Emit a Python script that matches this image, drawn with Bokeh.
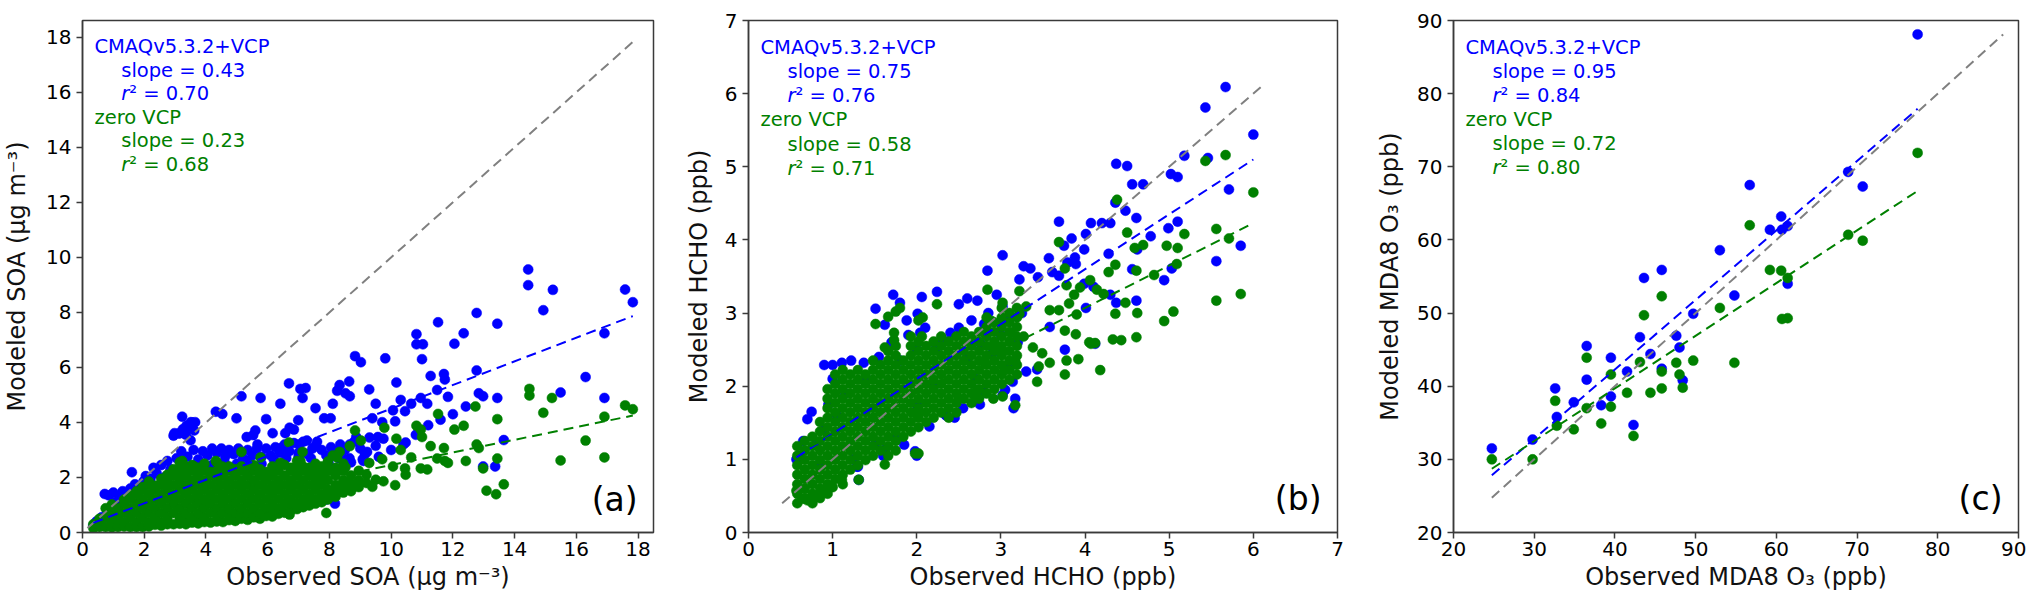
from bokeh.plotting import figure
from bokeh.models import Range1d, FixedTicker, Label
from bokeh.layouts import row
from bokeh.embed import file_html
from bokeh.resources import INLINE

BLUE = "#0000ff"
GREEN = "#008000"
GRAY = "#808080"
FRAME = "#3a3a3a"
FONT = "DejaVu Sans"

series_labels = ["CMAQv5.3.2+VCP", "zero VCP"]

# ---------------- panel (a): SOA ----------------
soa_obs_vcp = [
    14.44, 14.44, 15.24, 14.93, 17.58, 17.83, 16.91, 12.77, 13.44, 11.52,
    10.82, 10.82, 11.03, 11.00, 12.05, 12.35, 8.83, 9.02, 9.81, 12.77,
    11.28, 11.71, 11.74, 11.49, 11.84, 12.84, 12.98, 13.44, 12.42, 15.49,
    16.30, 16.91, 13.65, 10.17, 10.65, 10.45, 10.06, 10.31, 10.96, 11.17,
    9.71, 9.39, 9.50, 10.13, 9.57, 9.75, 10.47, 12.98, 13.37, 8.25,
    8.33, 8.52, 8.66, 9.29, 8.64, 8.11, 8.04, 7.83, 7.55, 7.13,
    7.06, 7.23, 6.69, 6.41, 5.77, 5.15, 4.99, 5.95, 4.32, 4.53,
    3.23, 3.51, 3.62, 3.65, 2.98, 3.16, 3.37, 5.60, 5.53, 5.32,
    6.57, 6.71, 6.99, 6.85, 6.16, 5.67, 6.43, 7.02, 7.27, 7.55,
    7.97, 8.18, 8.38, 8.66, 9.08, 8.87, 9.22,
    0.35, 0.45, 0.55, 0.62, 0.72, 0.85, 1.00, 0.80, 1.05, 1.20,
    1.30, 1.45, 1.55, 1.60, 1.70, 1.85, 1.98, 2.05, 2.20, 2.30,
    2.40, 2.55, 2.65, 2.75, 2.85, 2.95, 3.05, 3.12, 3.25, 3.35, 3.45, 3.55, 3.50,
    3.20, 3.40, 3.60, 3.75, 3.90, 4.05, 4.20, 4.35, 4.50, 4.62, 4.75, 4.90, 5.05, 5.20,
    5.35, 5.50, 5.65, 5.80, 5.95, 6.10, 6.25, 6.40, 6.55, 6.70, 6.85, 7.00, 7.15, 7.30,
    7.45, 7.60, 7.75, 7.90, 8.05, 8.20, 8.35, 8.50, 8.65, 8.80, 9.00, 9.15, 9.30, 9.50,
    4.20, 4.60, 5.00, 5.40, 5.80, 6.20, 6.60, 7.00, 7.40, 7.90, 8.00, 8.30, 8.70, 9.10,
    9.60, 10.00, 10.40, 10.80, 11.20, 11.60, 12.00,
]
soa_mod_vcp = [
    9.56, 8.99, 8.82, 8.08, 8.83, 8.37, 7.24, 7.98, 7.59, 7.64,
    7.21, 6.84, 6.84, 6.30, 6.86, 7.24, 6.41, 6.19, 6.33, 5.89,
    5.69, 5.76, 5.56, 5.18, 4.93, 5.06, 4.95, 4.89, 4.58, 5.09,
    5.65, 4.89, 3.36, 5.45, 4.68, 4.41, 4.44, 4.82, 4.89, 4.68,
    4.01, 4.15, 4.68, 4.04, 3.47, 3.41, 3.27, 2.40, 2.40, 5.15,
    5.36, 5.06, 4.95, 5.20, 5.49, 4.68, 4.15, 4.15, 4.52, 4.89,
    5.22, 5.25, 5.42, 4.68, 4.89, 4.95, 4.15, 4.12, 4.39, 4.31,
    4.21, 4.01, 3.71, 4.01, 3.61, 3.61, 3.88, 3.71, 3.54, 3.47,
    3.61, 3.81, 4.08, 3.74, 3.61, 3.20, 3.07, 3.20, 3.34, 3.14,
    2.53, 1.05, 2.80, 3.20, 2.66, 3.47, 2.93,
    0.25, 0.40, 0.30, 0.55, 1.40, 1.35, 1.45, 0.75, 1.10, 1.25,
    1.50, 1.35, 1.60, 2.19, 1.75, 1.55, 1.86, 2.05, 1.95, 2.35,
    2.15, 2.45, 2.00, 2.60, 2.30, 3.52, 2.70, 3.60, 3.75, 3.55, 3.85, 4.00, 3.35,
    2.95, 2.75, 3.00, 2.65, 2.95, 2.80, 3.05, 2.90, 3.05, 2.75, 3.00, 2.85, 3.05, 2.70,
    3.00, 2.80, 3.05, 2.75, 3.05, 2.80, 3.10, 2.90, 3.20, 2.95, 3.25, 2.90, 3.30, 2.85,
    3.05, 3.30, 3.00, 2.80, 3.10, 2.95, 3.20, 3.00, 2.70, 3.30, 3.05, 2.85, 3.45, 3.15,
    2.45, 2.55, 2.50, 2.60, 2.50, 2.65, 2.70, 2.75, 2.70, 1.20, 1.35, 2.70, 2.55, 2.60,
    2.75, 3.00, 3.20, 3.55, 3.90, 4.10, 4.30,
]
soa_obs_zero = [
    14.48, 14.48, 15.21, 14.93, 12.73, 13.44, 11.52, 10.82, 10.96, 11.00,
    9.78, 8.83, 9.02, 12.05, 12.35, 12.77, 12.84, 11.28, 11.71, 11.74,
    11.49, 11.84, 12.42, 13.44, 15.49, 16.30, 16.91, 16.91, 17.58, 17.83,
    13.65, 13.09, 13.40, 12.98, 10.17, 10.65, 10.45, 10.06, 10.31, 10.96,
    11.17, 9.71, 9.39, 9.50, 10.13, 9.75, 10.47, 8.25, 8.33, 8.52,
    8.66, 9.29, 8.64, 8.11, 8.04, 7.83, 7.55, 7.13, 7.06, 6.69,
    6.41, 5.77, 5.15, 4.99, 5.95, 4.32, 4.53, 3.23, 3.51, 3.62,
    2.98, 3.16, 3.37, 7.90, 6.71,
    0.35, 0.35,
    0.55, 0.55, 0.55,
    0.75, 0.75, 0.75,
    0.95, 0.95, 0.95, 0.95,
    1.15, 1.15, 1.15,
    1.35, 1.35, 1.35, 1.35, 1.35,
    1.55, 1.55, 1.55, 1.55, 1.55,
    1.75, 1.75, 1.75, 1.75, 1.75, 1.75,
    1.95, 1.95, 1.95, 1.95, 1.95, 1.95,
    2.15, 2.15, 2.15, 2.15, 2.15, 2.15, 2.15,
    2.35, 2.35, 2.35, 2.35, 2.35, 2.35,
    2.55, 2.55, 2.55, 2.55, 2.55, 2.55, 2.55,
    2.75, 2.75, 2.75, 2.75, 2.75, 2.75, 2.75,
    2.95, 2.95, 2.95, 2.95, 2.95, 2.95, 2.95,
    3.15, 3.15, 3.15, 3.15, 3.15, 3.15, 3.15, 3.15,
    3.35, 3.35, 3.35, 3.35, 3.35, 3.35, 3.35, 3.35,
    3.55, 3.55, 3.55, 3.55, 3.55, 3.55, 3.55, 3.55,
    3.75, 3.75, 3.75, 3.75, 3.75, 3.75, 3.75, 3.75,
    3.95, 3.95, 3.95, 3.95, 3.95, 3.95, 3.95, 3.95,
    4.15, 4.15, 4.15, 4.15, 4.15, 4.15, 4.15,
    4.35, 4.35, 4.35, 4.35, 4.35, 4.35, 4.35, 4.35,
    4.55, 4.55, 4.55, 4.55, 4.55, 4.55, 4.55,
    4.75, 4.75, 4.75, 4.75, 4.75, 4.75, 4.75, 4.75,
    4.95, 4.95, 4.95, 4.95, 4.95, 4.95, 4.95,
    5.15, 5.15, 5.15, 5.15, 5.15, 5.15, 5.15, 5.15,
    5.35, 5.35, 5.35, 5.35, 5.35, 5.35, 5.35,
    5.55, 5.55, 5.55, 5.55, 5.55, 5.55, 5.55,
    5.75, 5.75, 5.75, 5.75, 5.75, 5.75, 5.75,
    5.95, 5.95, 5.95, 5.95, 5.95, 5.95,
    6.15, 6.15, 6.15, 6.15, 6.15, 6.15, 6.15,
    6.35, 6.35, 6.35, 6.35, 6.35, 6.35,
    6.55, 6.55, 6.55, 6.55, 6.55, 6.55,
    6.75, 6.75, 6.75, 6.75, 6.75, 6.75, 6.75,
    6.95, 6.95, 6.95, 6.95, 6.95, 6.95, 6.95,
    7.15, 7.15, 7.15, 7.15, 7.15, 7.15,
    7.35, 7.35, 7.35, 7.35, 7.35, 7.35,
    7.55, 7.55, 7.55, 7.55, 7.55, 7.55,
    7.75, 7.75, 7.75, 7.75, 7.75,
    7.95, 7.95, 7.95, 7.95, 7.95, 7.95,
    8.20, 8.20, 8.20, 8.20, 8.20,
    8.45, 8.45, 8.45, 8.45, 8.45,
    8.70, 8.70, 8.70,
    8.95, 8.95, 8.95,
    9.20, 9.20,
]
soa_mod_zero = [
    5.22, 4.98, 4.89, 4.35, 4.58, 4.12, 4.31, 3.88, 3.74, 3.47,
    3.81, 3.71, 3.34, 3.74, 3.88, 3.20, 3.07, 3.14, 3.07, 2.60,
    2.69, 2.53, 2.60, 2.69, 2.62, 3.34, 2.73, 4.21, 4.62, 4.48,
    1.75, 1.52, 1.39, 2.33, 3.41, 2.73, 2.33, 2.40, 3.00, 2.33,
    2.29, 2.66, 1.66, 1.92, 1.72, 1.86, 2.10, 2.73, 2.93, 2.37,
    3.14, 2.53, 1.86, 2.80, 2.26, 1.99, 2.13, 2.93, 2.60, 3.27,
    2.53, 2.73, 2.93, 2.26, 2.13, 2.60, 2.40, 2.60, 2.33, 2.40,
    2.19, 2.06, 2.26, 0.71, 0.65,
    0.16, 0.30,
    0.20, 0.37, 0.50,
    0.20, 0.54, 0.88,
    0.18, 0.37, 0.71, 1.02,
    0.20, 0.54, 0.88,
    0.22, 0.37, 0.71, 1.05, 1.20,
    0.20, 0.54, 0.88, 1.22, 1.35,
    0.20, 0.37, 0.71, 1.05, 1.39, 1.50,
    0.20, 0.54, 0.88, 1.22, 1.56, 1.65,
    0.22, 0.37, 0.71, 1.05, 1.39, 1.73, 1.85,
    0.28, 0.54, 0.88, 1.22, 1.56, 1.70,
    0.25, 0.37, 0.71, 1.05, 1.39, 1.73, 1.95,
    0.30, 0.54, 0.88, 1.22, 1.56, 1.90, 2.10,
    0.30, 0.71, 1.05, 1.39, 1.73, 2.07, 2.30,
    0.32, 0.54, 0.88, 1.22, 1.56, 1.90, 2.24, 2.55,
    0.30, 0.50, 0.71, 1.05, 1.39, 1.73, 2.07, 2.40,
    0.36, 0.54, 0.88, 1.22, 1.56, 1.90, 2.24, 2.45,
    0.33, 0.52, 0.71, 1.05, 1.39, 1.73, 2.07, 2.35,
    0.38, 0.54, 0.88, 1.22, 1.56, 1.90, 2.24, 2.50,
    0.36, 0.71, 1.05, 1.39, 1.73, 2.07, 2.20,
    0.40, 0.62, 0.88, 1.22, 1.56, 1.90, 2.24, 2.55,
    0.38, 0.71, 1.05, 1.39, 1.73, 2.07, 2.25,
    0.45, 0.66, 0.88, 1.22, 1.56, 1.90, 2.24, 2.40,
    0.42, 0.71, 1.05, 1.39, 1.73, 2.07, 2.30,
    0.50, 0.70, 0.88, 1.22, 1.56, 1.90, 2.24, 2.40,
    0.46, 0.71, 1.05, 1.39, 1.73, 2.07, 2.30,
    0.55, 0.88, 1.22, 1.56, 1.90, 2.24, 2.45,
    0.50, 0.71, 1.05, 1.39, 1.73, 2.07, 2.30,
    0.60, 0.88, 1.22, 1.56, 1.90, 2.20,
    0.58, 0.82, 1.05, 1.39, 1.73, 2.07, 2.40,
    0.68, 0.88, 1.22, 1.56, 1.90, 2.24,
    0.72, 1.05, 1.39, 1.73, 2.07, 2.45,
    0.80, 1.02, 1.22, 1.56, 1.90, 2.24, 2.35,
    0.85, 1.05, 1.39, 1.73, 2.07, 2.41, 2.60,
    0.92, 1.22, 1.56, 1.90, 2.24, 2.40,
    0.98, 1.20, 1.39, 1.73, 2.07, 2.35,
    1.05, 1.22, 1.56, 1.90, 2.24, 2.50,
    1.10, 1.39, 1.73, 2.07, 2.40,
    1.20, 1.40, 1.56, 1.90, 2.24, 2.58,
    1.30, 1.52, 1.73, 2.07, 2.35,
    1.45, 1.68, 1.90, 2.24, 2.50,
    1.50, 1.73, 2.07,
    1.65, 1.90, 2.24,
    1.80, 2.10,
]
soa_slope = [0.43, 0.23]
soa_intercept = [0.20, 0.15]
soa_r2 = [0.70, 0.68]
soa_ticks = [0, 2, 4, 6, 8, 10, 12, 14, 16, 18]

# ---------------- panel (b): HCHO ----------------
hcho_obs_vcp = [
    5.67, 5.43, 6.00, 4.37, 4.50, 4.56, 4.69, 5.02, 5.10, 5.18,
    5.46, 5.71, 4.36, 4.48, 4.61, 5.10, 4.99, 4.78, 4.62, 4.28,
    4.20, 4.30, 4.07, 4.01, 3.84, 3.99, 3.88, 3.79, 3.69, 3.75,
    3.89, 3.57, 3.61, 3.69, 3.27, 3.35, 3.44, 3.22, 3.02, 2.84,
    5.03, 4.94, 4.56, 4.61, 4.37, 4.30, 4.01, 4.10, 5.56, 5.85,
    3.99, 3.58, 3.76, 3.43, 4.12, 3.02, 3.02, 3.12, 2.60, 2.72,
    2.50, 2.24, 2.06, 2.01, 1.72, 1.80, 1.51, 1.62, 1.88, 3.02,
    3.17, 3.14, 2.81, 2.76, 2.40, 2.23, 2.04, 0.90, 1.00, 1.11,
    1.22, 1.37, 1.98, 1.62, 1.29, 1.31, 2.01, 2.35, 2.45, 0.57,
    0.70, 0.75,
    0.60, 0.65, 0.80, 0.85, 0.90, 0.95, 1.00, 1.05, 1.15, 1.25,
    1.30, 1.40, 1.50, 1.55, 1.60, 1.70, 1.75, 1.80, 1.85, 1.90,
    2.00, 2.00, 2.10, 2.15, 2.20, 2.30, 2.35, 2.50, 2.55, 2.60,
    2.65, 2.70, 2.75, 2.80, 2.85, 2.90, 2.95, 3.00, 3.05, 3.10,
    3.15, 3.20, 3.25, 3.30,
]
hcho_mod_vcp = [
    6.09, 5.81, 5.44, 5.04, 5.01, 4.76, 4.76, 4.90, 4.86, 5.15,
    5.12, 4.69, 4.51, 4.40, 4.30, 4.25, 4.16, 4.05, 3.87, 3.81,
    4.23, 4.23, 4.23, 4.08, 4.02, 3.87, 3.76, 3.69, 4.25, 3.92,
    3.67, 3.75, 3.56, 3.51, 3.64, 3.61, 3.49, 3.46, 3.79, 3.58,
    3.61, 3.45, 3.60, 3.17, 3.14, 3.25, 3.07, 3.36, 3.71, 3.92,
    3.40, 2.81, 2.50, 2.23, 2.58, 2.89, 3.09, 2.94, 3.20, 3.17,
    3.12, 3.29, 3.22, 2.99, 3.25, 3.14, 3.06, 2.84, 2.90, 1.88,
    1.83, 2.06, 1.91, 2.58, 2.73, 2.53, 2.73, 2.29, 2.29, 2.32,
    2.35, 2.32, 1.11, 1.13, 0.90, 0.72, 1.73, 1.60, 1.57, 1.00,
    1.55, 1.65,
    1.05, 1.25, 1.20, 0.95, 1.40, 1.75, 2.10, 1.60, 1.90, 1.00,
    0.90, 2.10, 1.20, 2.40, 1.05, 2.60, 1.30, 2.35, 1.20, 2.70,
    1.05, 2.50, 2.80, 1.45, 2.00, 2.65, 1.60, 2.80, 1.70, 2.40,
    2.90, 2.10, 1.75, 2.85, 3.00, 2.45, 3.25, 2.70, 1.95, 2.25,
    1.70, 2.60, 3.00, 2.20,
]
hcho_obs_zero = [
    5.43, 5.67, 6.00, 4.38, 4.50, 4.59, 4.69, 4.82, 4.97, 5.10,
    5.18, 5.09, 5.56, 5.71, 5.56, 5.85, 4.94, 5.05, 4.36, 4.28,
    4.36, 4.48, 4.61, 4.62, 4.61, 4.33, 4.43, 3.69, 4.06, 3.94,
    4.14, 4.22, 3.76, 3.87, 3.90, 3.78, 3.81, 3.69, 3.58, 3.76,
    3.89, 3.92, 3.78, 3.76, 4.05, 4.07, 4.12, 4.18, 3.58, 3.43,
    3.45, 3.22, 3.30, 3.22, 3.27, 3.38, 3.49, 3.17, 3.04, 2.89,
    3.02, 3.12, 2.81, 2.91, 3.02, 2.84, 3.02, 3.17, 2.91, 2.71,
    2.81, 2.50, 2.71, 2.24, 2.07, 2.06, 1.73, 1.73, 1.62, 1.80,
    1.51, 1.62, 1.98, 2.01, 1.31, 0.85, 0.75, 0.70, 0.57, 0.64,
    0.90, 1.00, 1.11,
    0.58, 0.58, 0.58, 0.58, 0.58, 0.58, 0.58,
    0.67, 0.67, 0.67, 0.67, 0.67, 0.67, 0.67,
    0.76, 0.76, 0.76, 0.76, 0.76, 0.76, 0.76, 0.76,
    0.85, 0.85, 0.85, 0.85, 0.85, 0.85, 0.85, 0.85, 0.85,
    0.94, 0.94, 0.94, 0.94, 0.94, 0.94, 0.94, 0.94, 0.94, 0.94, 0.94, 0.94,
    1.03, 1.03, 1.03, 1.03, 1.03, 1.03, 1.03, 1.03, 1.03, 1.03, 1.03, 1.03,
    1.12, 1.12, 1.12, 1.12, 1.12, 1.12, 1.12, 1.12, 1.12, 1.12, 1.12, 1.12, 1.12,
    1.21, 1.21, 1.21, 1.21, 1.21, 1.21, 1.21, 1.21, 1.21, 1.21, 1.21,
    1.30, 1.30, 1.30, 1.30, 1.30, 1.30, 1.30, 1.30, 1.30, 1.30, 1.30,
    1.39, 1.39, 1.39, 1.39, 1.39, 1.39, 1.39, 1.39, 1.39, 1.39,
    1.48, 1.48, 1.48, 1.48, 1.48, 1.48, 1.48, 1.48, 1.48, 1.48, 1.48,
    1.57, 1.57, 1.57, 1.57, 1.57, 1.57, 1.57, 1.57, 1.57, 1.57,
    1.66, 1.66, 1.66, 1.66, 1.66, 1.66, 1.66, 1.66, 1.66, 1.66, 1.66, 1.66, 1.66,
    1.75, 1.75, 1.75, 1.75, 1.75, 1.75, 1.75, 1.75, 1.75, 1.75, 1.75, 1.75, 1.75,
    1.84, 1.84, 1.84, 1.84, 1.84, 1.84, 1.84, 1.84, 1.84,
    1.93, 1.93, 1.93, 1.93, 1.93, 1.93, 1.93, 1.93, 1.93, 1.93, 1.93,
    2.02, 2.02, 2.02, 2.02, 2.02, 2.02, 2.02, 2.02, 2.02, 2.02, 2.02, 2.02,
    2.11, 2.11, 2.11, 2.11, 2.11, 2.11, 2.11, 2.11, 2.11,
    2.20, 2.20, 2.20, 2.20, 2.20, 2.20, 2.20, 2.20, 2.20,
    2.29, 2.29, 2.29, 2.29, 2.29, 2.29, 2.29, 2.29, 2.29,
    2.38, 2.38, 2.38, 2.38, 2.38, 2.38, 2.38, 2.38, 2.38,
    2.47, 2.47, 2.47, 2.47, 2.47, 2.47, 2.47, 2.47, 2.47,
    2.56, 2.56, 2.56, 2.56, 2.56, 2.56, 2.56, 2.56,
    2.65, 2.65, 2.65, 2.65, 2.65, 2.65, 2.65, 2.65,
    2.74, 2.74, 2.74, 2.74, 2.74, 2.74, 2.74, 2.74,
    2.83, 2.83, 2.83, 2.83, 2.83, 2.83, 2.83, 2.83, 2.83,
    2.92, 2.92, 2.92, 2.92, 2.92, 2.92, 2.92, 2.92,
    3.01, 3.01, 3.01, 3.01, 3.01, 3.01, 3.01, 3.01, 3.01,
    3.10, 3.10, 3.10, 3.10, 3.10, 3.10, 3.10, 3.10,
    3.19, 3.19, 3.19, 3.19, 3.19, 3.19, 3.19, 3.19,
]
hcho_mod_zero = [
    5.08, 5.16, 4.65, 4.55, 4.10, 3.89, 3.93, 3.52, 3.92, 3.89,
    4.08, 3.67, 4.15, 4.02, 3.17, 3.26, 2.89, 3.02, 3.66, 3.56,
    2.99, 3.14, 3.58, 3.00, 2.67, 2.64, 2.63, 3.97, 3.45, 3.35,
    3.32, 3.26, 3.61, 3.25, 2.98, 3.38, 3.13, 3.04, 3.04, 2.76,
    2.71, 2.37, 2.35, 2.16, 2.60, 2.58, 2.59, 2.22, 2.32, 2.06,
    2.27, 3.30, 3.09, 2.99, 2.68, 2.53, 2.45, 2.35, 2.22, 2.89,
    3.14, 2.73, 2.72, 2.55, 2.47, 3.32, 1.86, 1.74, 1.83, 1.93,
    2.32, 1.83, 1.86, 3.12, 2.94, 2.68, 2.63, 2.73, 2.53, 3.07,
    2.85, 0.93, 1.08, 1.60, 0.72, 0.52, 0.46, 0.44, 0.57, 0.46,
    0.57, 0.62, 0.72,
    0.40, 0.53, 0.66, 0.79, 0.92, 1.05, 1.18,
    0.47, 0.60, 0.73, 0.86, 0.99, 1.12, 1.25,
    0.40, 0.53, 0.66, 0.79, 0.92, 1.05, 1.18, 1.31,
    0.47, 0.60, 0.73, 0.86, 0.99, 1.12, 1.25, 1.38, 1.51,
    0.53, 0.66, 0.79, 0.92, 1.05, 1.18, 1.31, 1.44, 1.57, 1.70, 1.83, 1.96,
    0.73, 0.86, 0.99, 1.12, 1.25, 1.38, 1.51, 1.64, 1.77, 1.90, 2.03, 2.16,
    0.66, 0.79, 0.92, 1.05, 1.18, 1.31, 1.44, 1.57, 1.70, 1.83, 1.96, 2.09, 2.22,
    0.86, 0.99, 1.12, 1.25, 1.38, 1.51, 1.64, 1.77, 1.90, 2.03, 2.16,
    0.92, 1.05, 1.18, 1.31, 1.44, 1.57, 1.70, 1.83, 1.96, 2.09, 2.22,
    0.99, 1.12, 1.25, 1.38, 1.51, 1.64, 1.77, 1.90, 2.03, 2.16,
    1.05, 1.18, 1.31, 1.44, 1.57, 1.70, 1.83, 1.96, 2.09, 2.22, 2.35,
    1.12, 1.25, 1.38, 1.51, 1.64, 1.77, 1.90, 2.03, 2.16, 2.29,
    1.05, 1.18, 1.31, 1.44, 1.57, 1.70, 1.83, 1.96, 2.09, 2.22, 2.35, 2.48, 2.95,
    1.12, 1.25, 1.38, 1.51, 1.64, 1.77, 1.90, 2.03, 2.16, 2.29, 2.42, 2.55, 3.02,
    1.31, 1.44, 1.57, 1.70, 1.83, 1.96, 2.09, 2.22, 2.35,
    1.38, 1.51, 1.64, 1.77, 1.90, 2.03, 2.16, 2.29, 2.42, 2.55, 2.68,
    1.08, 1.44, 1.57, 1.70, 1.83, 1.96, 2.09, 2.22, 2.35, 2.48, 2.61, 2.90,
    1.51, 1.64, 1.77, 1.90, 2.03, 2.16, 2.29, 2.42, 2.55,
    1.57, 1.70, 1.83, 1.96, 2.09, 2.22, 2.35, 2.48, 2.61,
    1.64, 1.77, 1.90, 2.03, 2.16, 2.29, 2.42, 2.55, 2.68,
    1.57, 1.70, 1.83, 1.96, 2.09, 2.22, 2.35, 2.48, 2.61,
    1.64, 1.77, 1.90, 2.03, 2.16, 2.29, 2.42, 2.55, 2.68,
    1.83, 1.96, 2.09, 2.22, 2.35, 2.48, 2.61, 2.74,
    1.77, 1.90, 2.03, 2.16, 2.29, 2.42, 2.55, 2.68,
    1.83, 1.96, 2.09, 2.22, 2.35, 2.48, 2.61, 2.74,
    1.90, 2.03, 2.16, 2.29, 2.42, 2.55, 2.68, 2.81, 2.94,
    1.96, 2.09, 2.22, 2.35, 2.48, 2.61, 2.74, 2.87,
    2.03, 2.16, 2.29, 2.42, 2.55, 2.68, 2.81, 2.94, 3.07,
    2.09, 2.22, 2.35, 2.48, 2.61, 2.74, 2.87, 3.00,
    2.16, 2.29, 2.42, 2.55, 2.68, 2.81, 2.94, 3.07,
]
hcho_slope = [0.75, 0.58]
hcho_intercept = [0.60, 0.75]
hcho_r2 = [0.76, 0.71]
hcho_ticks = [0, 1, 2, 3, 4, 5, 6, 7]

# ---------------- panel (c): MDA8 O3 ----------------
o3_obs_vcp = [24.75, 29.8, 32.6, 32.8, 34.9, 36.5, 36.5, 38.3, 39.5, 39.5,
              41.5, 42.3, 43.1, 43.6, 44.4, 45.8, 45.8, 47.6, 48.0, 48.4,
              49.7, 53.0, 54.8, 56.7, 59.2, 60.6, 60.7, 61.4, 61.4, 68.9,
              70.7, 77.5]
o3_mod_vcp = [31.5, 32.7, 39.7, 35.8, 37.8, 45.5, 40.9, 37.4, 43.9, 38.6,
              42.0, 34.7, 46.7, 54.8, 44.4, 55.9, 42.4, 46.9, 45.3, 40.8,
              49.9, 58.6, 52.4, 67.5, 61.4, 63.2, 61.4, 61.9, 54.0, 69.3,
              67.3, 88.1]
o3_obs_zero = [24.75, 29.8, 32.6, 32.8, 34.9, 36.5, 36.5, 38.3, 39.5, 39.5,
               41.5, 42.3, 43.1, 43.6, 44.4, 45.8, 45.8, 45.8, 47.6, 48.0,
               48.4, 49.7, 53.0, 54.8, 56.7, 59.2, 60.6, 60.7, 61.4, 61.4,
               68.9, 70.7, 77.5]
o3_mod_zero = [30.0, 30.0, 38.0, 34.6, 34.1, 43.9, 37.0, 34.9, 41.6, 37.2,
               39.1, 33.2, 43.3, 49.7, 39.1, 52.3, 42.0, 39.7, 43.2, 41.6,
               39.8, 43.5, 50.7, 43.2, 62.0, 55.9, 55.8, 49.2, 54.8, 49.3,
               60.7, 59.9, 71.9]
o3_slope = [0.95, 0.72]
o3_intercept = [4.3, 10.9]
o3_r2 = [0.84, 0.80]
o3_ticks = [20, 30, 40, 50, 60, 70, 80, 90]


def build(obs_v, mod_v, obs_z, mod_z, slopes, icpts, r2s, xr, yr, ticks,
          xlabel, ylabel, tag, fw, fh, bl, bt, br, bb, ylab_standoff):
    p = figure(width=bl + fw + br, height=bt + fh + bb,
               min_border_left=bl, min_border_top=bt,
               min_border_right=br, min_border_bottom=bb,
               x_range=Range1d(*xr), y_range=Range1d(*yr),
               output_backend="svg", toolbar_location=None)
    p.grid.visible = False
    p.outline_line_color = FRAME
    p.outline_line_width = 1.5
    p.outline_line_alpha = 1.0
    p.background_fill_color = "white"
    p.border_fill_color = "white"
    for ax, lab in ((p.xaxis[0], xlabel), (p.yaxis[0], ylabel)):
        ax.ticker = FixedTicker(ticks=ticks)
        ax.axis_label = lab
        ax.axis_line_color = FRAME
        ax.axis_line_width = 1.5
        ax.major_tick_line_color = FRAME
        ax.major_tick_line_width = 1.5
        ax.major_tick_in = 0
        ax.major_tick_out = 6
        ax.minor_tick_line_color = None
        ax.major_label_text_font = FONT
        ax.major_label_text_font_size = "20px"
        ax.major_label_text_color = "black"
        ax.axis_label_text_font = FONT
        ax.axis_label_text_font_size = "24px"
        ax.axis_label_text_font_style = "normal"
        ax.axis_label_text_color = "#111111"
    p.xaxis[0].major_label_standoff = 3
    p.xaxis[0].axis_label_standoff = 4
    p.yaxis[0].major_label_standoff = 5
    p.yaxis[0].axis_label_standoff = ylab_standoff

    p.scatter(obs_v, mod_v, size=10, fill_color=BLUE, line_color=BLUE, line_width=0.5)
    p.scatter(obs_z, mod_z, size=10, fill_color=GREEN, line_color=GREEN, line_width=0.5)

    allv = list(obs_v) + list(mod_v) + list(obs_z) + list(mod_z)
    lo, hi = min(allv), max(allv)
    p.line([lo, hi], [lo, hi], line_color=GRAY, line_dash="10 6", line_width=2)
    for obs, sl, b, col in ((obs_v, slopes[0], icpts[0], BLUE),
                            (obs_z, slopes[1], icpts[1], GREEN)):
        x0, x1 = min(obs), max(obs)
        p.line([x0, x1], [sl * x0 + b, sl * x1 + b], line_color=col,
               line_dash="10 6", line_width=2)

    sx = (xr[1] - xr[0]) / fw
    sy = (yr[1] - yr[0]) / fh

    def put(text, dx, dy, color, style="normal", size="19.5px", font=FONT,
            align="left", baseline="alphabetic"):
        p.add_layout(Label(x=xr[0] + dx * sx, y=yr[1] - dy * sy, text=text,
                           text_color=color, text_font=font,
                           text_font_size=size, text_font_style=style,
                           text_align=align, text_baseline=baseline))

    indent = 39
    base = 27
    step = 24.2
    for i, col in enumerate((BLUE, GREEN)):
        y0 = base + 3 * i * step
        put(series_labels[i], 12, y0, col)
        put("slope = %.2f" % slopes[i], indent, y0 + step, col)
        put("r", indent, y0 + 2 * step, col, style="italic")
        put("\u00b2 = %.2f" % r2s[i], indent + 8, y0 + 2 * step, col)

    put(tag, fw - 16, fh - 34, "black", size="33px", font=FONT,
        align="right", baseline="middle")
    return p


pa = build(soa_obs_vcp, soa_mod_vcp, soa_obs_zero, soa_mod_zero,
           soa_slope, soa_intercept, soa_r2, (0, 18.5), (0, 18.61), soa_ticks,
           "Observed SOA (\u03bcg m\u207b\u00b3)", "Modeled SOA (\u03bcg m\u207b\u00b3)", "(a)",
           575, 528, 78, 4, 9, 68, 12)
pb = build(hcho_obs_vcp, hcho_mod_vcp, hcho_obs_zero, hcho_mod_zero,
           hcho_slope, hcho_intercept, hcho_r2, (0, 7), (0, 7), hcho_ticks,
           "Observed HCHO (ppb)", "Modeled HCHO (ppb)", "(b)",
           589, 513, 86, 20, 9, 67, 9)
pc = build(o3_obs_vcp, o3_mod_vcp, o3_obs_zero, o3_mod_zero,
           o3_slope, o3_intercept, o3_r2, (20, 90), (20, 90), o3_ticks,
           "Observed MDA8 O\u2083 (ppb)", "Modeled MDA8 O\u2083 (ppb)", "(c)",
           565, 514, 107, 20, 8, 66, 10)

layout = row(pa, pb, pc)
open("out.html", "w").write(file_html(layout, INLINE))
